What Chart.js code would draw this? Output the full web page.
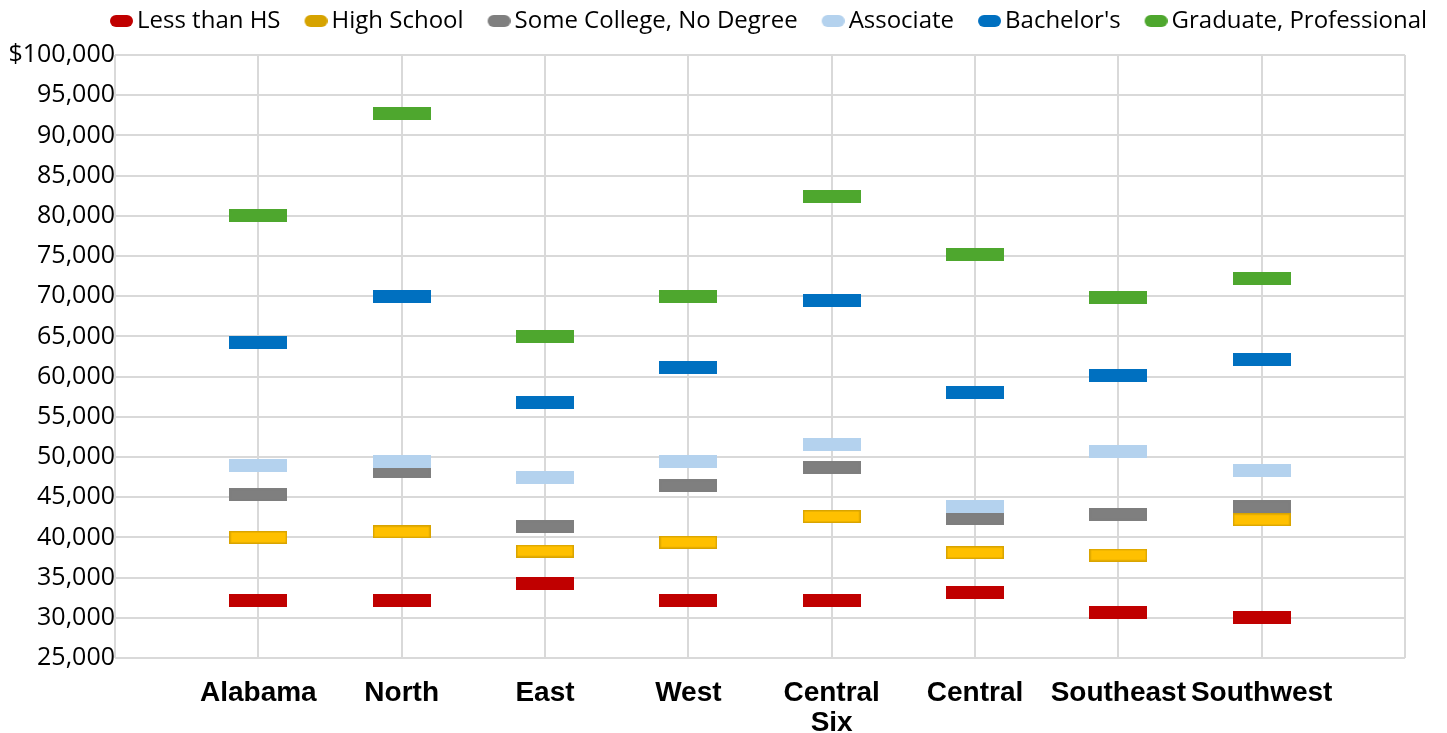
<!DOCTYPE html>
<html lang="en">
<head>
<meta charset="UTF-8">
<title>Earnings by Education</title>
<script src="https://cdn.jsdelivr.net/npm/chart.js"></script>
<style>
    html, body { margin: 0; padding: 0; background: white; }
    #wrap { width: 1447px; height: 733px; position: relative; }
</style>
</head>
<body>
<div id="wrap"><canvas id="chart"></canvas></div>
<script>
// regions, in axis order (positions 1..8)
const regions = ['Alabama', 'North', 'East', 'West', ['Central', 'Six'], 'Central', 'Southeast', 'Southwest'];

const seriesNames = ['Less than HS', 'High School', 'Some College, No Degree', 'Associate', "Bachelor's", 'Graduate, Professional'];

// median earnings
const lessThanHS   = [32200, 32200, 34300, 32200, 32200, 33200, 30700, 30000];
const highSchool   = [40000, 40700, 38300, 39400, 42600, 38100, 37800, 42200];
const someCollege  = [45300, 48200, 41300, 46400, 48700, 42300, 42900, 43800];
const associate    = [49000, 49500, 47500, 49500, 51500, 43800, 50700, 48300];
const bachelors    = [64300, 70000, 56800, 61100, 69500, 58000, 60100, 62100];
const graduate     = [80000, 92700, 65000, 70000, 82400, 75200, 69800, 72200];

const yTicksMin = 25000, yTicksMax = 100000, yStep = 5000;

const fills   = ['#c00000', '#ffc000', '#7f7f7f', '#b4d2ee', '#0070c0', '#4ea72e'];
const strokes = ['#c00000', '#d9a400', '#7f7f7f', '#b4d2ee', '#0070c0', '#4ea72e'];
const legendColors = ['#c00000', '#d6a300', '#7f7f7f', '#b4d2ee', '#0070c0', '#4ea72e'];

// little bar-shaped markers
function makeMarker(fill, stroke) {
    const c = document.createElement('canvas');
    c.width = 58; c.height = 13;
    const g = c.getContext('2d');
    g.fillStyle = fill;
    g.fillRect(0, 0, 58, 13);
    g.strokeStyle = stroke;
    g.lineWidth = 1.5;
    g.strokeRect(0.75, 0.75, 56.5, 11.5);
    return c;
}

// legend pill; image is wider than the pill so the gaps look like the original
function makePill(color) {
    const c = document.createElement('canvas');
    c.width = 46; c.height = 12;
    const g = c.getContext('2d');
    g.fillStyle = color;
    g.beginPath();
    g.roundRect(23, 0, 23, 12, 6);
    g.fill();
    return c;
}

const allSeries = [lessThanHS, highSchool, someCollege, associate, bachelors, graduate];
const markers = fills.map((f, i) => makeMarker(f, strokes[i]));
const pills = legendColors.map(c => makePill(c));

const datasets = allSeries.map((vals, i) => ({
    label: seriesNames[i],
    data: vals.map((v, k) => ({ x: k + 1, y: v })),
    showLine: false,
    pointStyle: markers[i],
    pointRadius: 6,
    pointHoverRadius: 6,
    backgroundColor: fills[i],
    borderColor: strokes[i],
    order: allSeries.length - i
}));

// keep the legend on one row, in a fixed-height band, starting where the original does
const legendBand = {
    id: 'legendBand',
    beforeUpdate(chart) {
        const lg = chart.legend;
        if (lg && !lg._patched) {
            const fit = lg.fit;
            lg.fit = function () {
                this.maxWidth = 2000;
                fit.call(this);
                this.height = 55;
            };
            lg._patched = true;
        }
    },
    afterLayout(chart) {
        chart.legend.left = 86;
        chart.legend.right = 2086;
        chart.legend.top = 0;
    }
};

new Chart(document.getElementById('chart'), {
    type: 'scatter',
    data: { datasets: datasets },
    plugins: [legendBand],
    options: {
        responsive: true,
        maintainAspectRatio: false,
        animation: false,
        layout: { padding: { left: 0, right: 42, top: 0, bottom: 0 } },
        plugins: {
            tooltip: { enabled: false },
            legend: {
                position: 'top',
                align: 'start',
                labels: {
                    usePointStyle: true,
                    pointStyleWidth: 30,
                    boxHeight: 12,
                    padding: 9,
                    color: '#000',
                    font: { family: 'Open Sans', size: 24 },
                    sort: (a, b) => a.datasetIndex - b.datasetIndex,
                    generateLabels: function (chart) {
                        const items = Chart.defaults.plugins.legend.labels.generateLabels(chart);
                        items.forEach(it => {
                            it.pointStyle = pills[it.datasetIndex];
                            it.lineWidth = 0;
                        });
                        return items;
                    }
                }
            }
        },
        scales: {
            x: {
                type: 'linear',
                min: 0,
                max: regions.length + 1,
                afterBuildTicks: function (scale) {
                    const t = [];
                    for (let i = 0; i <= regions.length + 1; i++) t.push({ value: i });
                    scale.ticks = t;
                },
                afterFit: function (scale) { scale.height = 75; },
                grid: { color: '#d9d9d9', lineWidth: 2, drawTicks: false },
                border: { display: false },
                ticks: {
                    autoSkip: false,
                    maxRotation: 0,
                    padding: 20,
                    color: '#000',
                    font: { family: 'Liberation Sans', size: 28, weight: 'bold', lineHeight: 1.07 },
                    callback: function (v) {
                        return (v >= 1 && v <= regions.length) ? regions[v - 1] : '';
                    }
                }
            },
            y: {
                min: yTicksMin,
                max: yTicksMax,
                afterFit: function (scale) { scale.width = 115; },
                grid: { color: '#d9d9d9', lineWidth: 2, drawTicks: false },
                border: { display: false },
                ticks: {
                    stepSize: yStep,
                    padding: 0,
                    color: '#000',
                    font: { family: 'Open Sans', size: 25 },
                    callback: function (v) {
                        const s = v.toLocaleString('en-US');
                        return v === yTicksMax ? '$' + s : s;
                    }
                }
            }
        }
    }
});
</script>
</body>
</html>
